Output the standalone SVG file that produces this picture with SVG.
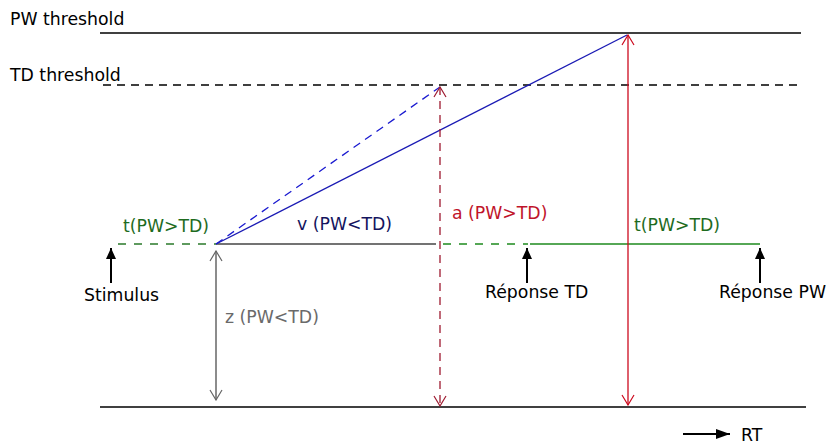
<svg xmlns="http://www.w3.org/2000/svg" width="826" height="446" viewBox="0 0 826 446">
<style>
text{font-family:"DejaVu Sans",Verdana,sans-serif;font-size:17.3px}
.blk{fill:#000}
.grn{fill:#1e6b1e}
</style>
<defs>
<marker id="open" viewBox="0 0 12 14" refX="11" refY="7" markerWidth="12" markerHeight="14" markerUnits="userSpaceOnUse" orient="auto-start-reverse"><path d="M1,1 L11,7 L1,13" fill="none" stroke="context-stroke" stroke-width="1.2"/></marker>
<marker id="fill" viewBox="0 0 11 11" refX="11" refY="5.5" markerWidth="11" markerHeight="11" markerUnits="userSpaceOnUse" orient="auto"><path d="M0,0.5 L11,5.5 L0,10.5 Z" fill="#000"/></marker>
<marker id="fillL" viewBox="0 0 14 11" refX="14" refY="5.5" markerWidth="14" markerHeight="11" markerUnits="userSpaceOnUse" orient="auto"><path d="M0,0.5 L14,5.5 L0,10.5 Z" fill="#000"/></marker>
</defs>
<rect width="826" height="446" fill="#fff"/>
<g id="thresholds">
<text x="10" y="25" class="blk">PW threshold</text>
<line x1="100" y1="33" x2="801" y2="33" stroke="#000" stroke-width="1.3"/>
<text x="10" y="81" class="blk">TD threshold</text>
<line x1="103" y1="85" x2="801" y2="85" stroke="#000" stroke-width="1.3" stroke-dasharray="8,6"/>
<line x1="100" y1="407" x2="806" y2="407" stroke="#000" stroke-width="1.3"/>
</g>
<g id="connectors">
<line x1="118" y1="244" x2="216" y2="244" stroke="#2a7a2a" stroke-width="1.3" stroke-dasharray="8,8"/>
<line x1="216" y1="244" x2="436" y2="244" stroke="#444" stroke-width="1.5"/>
<line x1="443" y1="244" x2="528" y2="244" stroke="#1e8a1e" stroke-width="1.3" stroke-dasharray="8,8"/>
<line x1="530" y1="244" x2="760" y2="244" stroke="#1e8a1e" stroke-width="1.3"/>
<line x1="216" y1="244" x2="627" y2="35" stroke="#1a1ab4" stroke-width="1.3"/>
<line x1="216" y1="244" x2="440" y2="87" stroke="#1a1ad0" stroke-width="1.3" stroke-dasharray="8,6"/>
<line x1="440" y1="87" x2="440" y2="406" stroke="#9e1a30" stroke-width="1.3" stroke-dasharray="8,6" marker-start="url(#open)" marker-end="url(#open)"/>
<line x1="628" y1="35" x2="628" y2="405" stroke="#cc0a1e" stroke-width="1.3" marker-start="url(#open)" marker-end="url(#open)"/>
<line x1="216" y1="251" x2="216" y2="400" stroke="#666" stroke-width="1.5" marker-start="url(#open)" marker-end="url(#open)"/>
<line x1="111" y1="283" x2="111" y2="248" stroke="#000" stroke-width="2" marker-end="url(#fill)"/>
<line x1="527" y1="283" x2="527" y2="248" stroke="#000" stroke-width="2" marker-end="url(#fill)"/>
<line x1="760" y1="283" x2="760" y2="248" stroke="#000" stroke-width="2" marker-end="url(#fill)"/>
<line x1="683" y1="434" x2="730" y2="434" stroke="#000" stroke-width="2" marker-end="url(#fillL)"/>
</g>
<g id="labels">
<text x="123" y="232" class="grn">t(PW&gt;TD)</text>
<text x="297" y="230" fill="#14145e">v (PW&lt;TD)</text>
<text x="452" y="219" fill="#c0142a">a (PW&gt;TD)</text>
<text x="634" y="231" class="grn">t(PW&gt;TD)</text>
<text x="225" y="323" fill="#6a6a6a">z (PW&lt;TD)</text>
</g>
<g id="stimulus"><text x="84" y="301" class="blk">Stimulus</text></g>
<g id="reponse-td"><text x="485" y="298" class="blk">Réponse TD</text></g>
<g id="reponse-pw"><text x="719" y="298" class="blk">Réponse PW</text></g>
<g id="rt"><text x="741" y="441" class="blk">RT</text></g>
</svg>
